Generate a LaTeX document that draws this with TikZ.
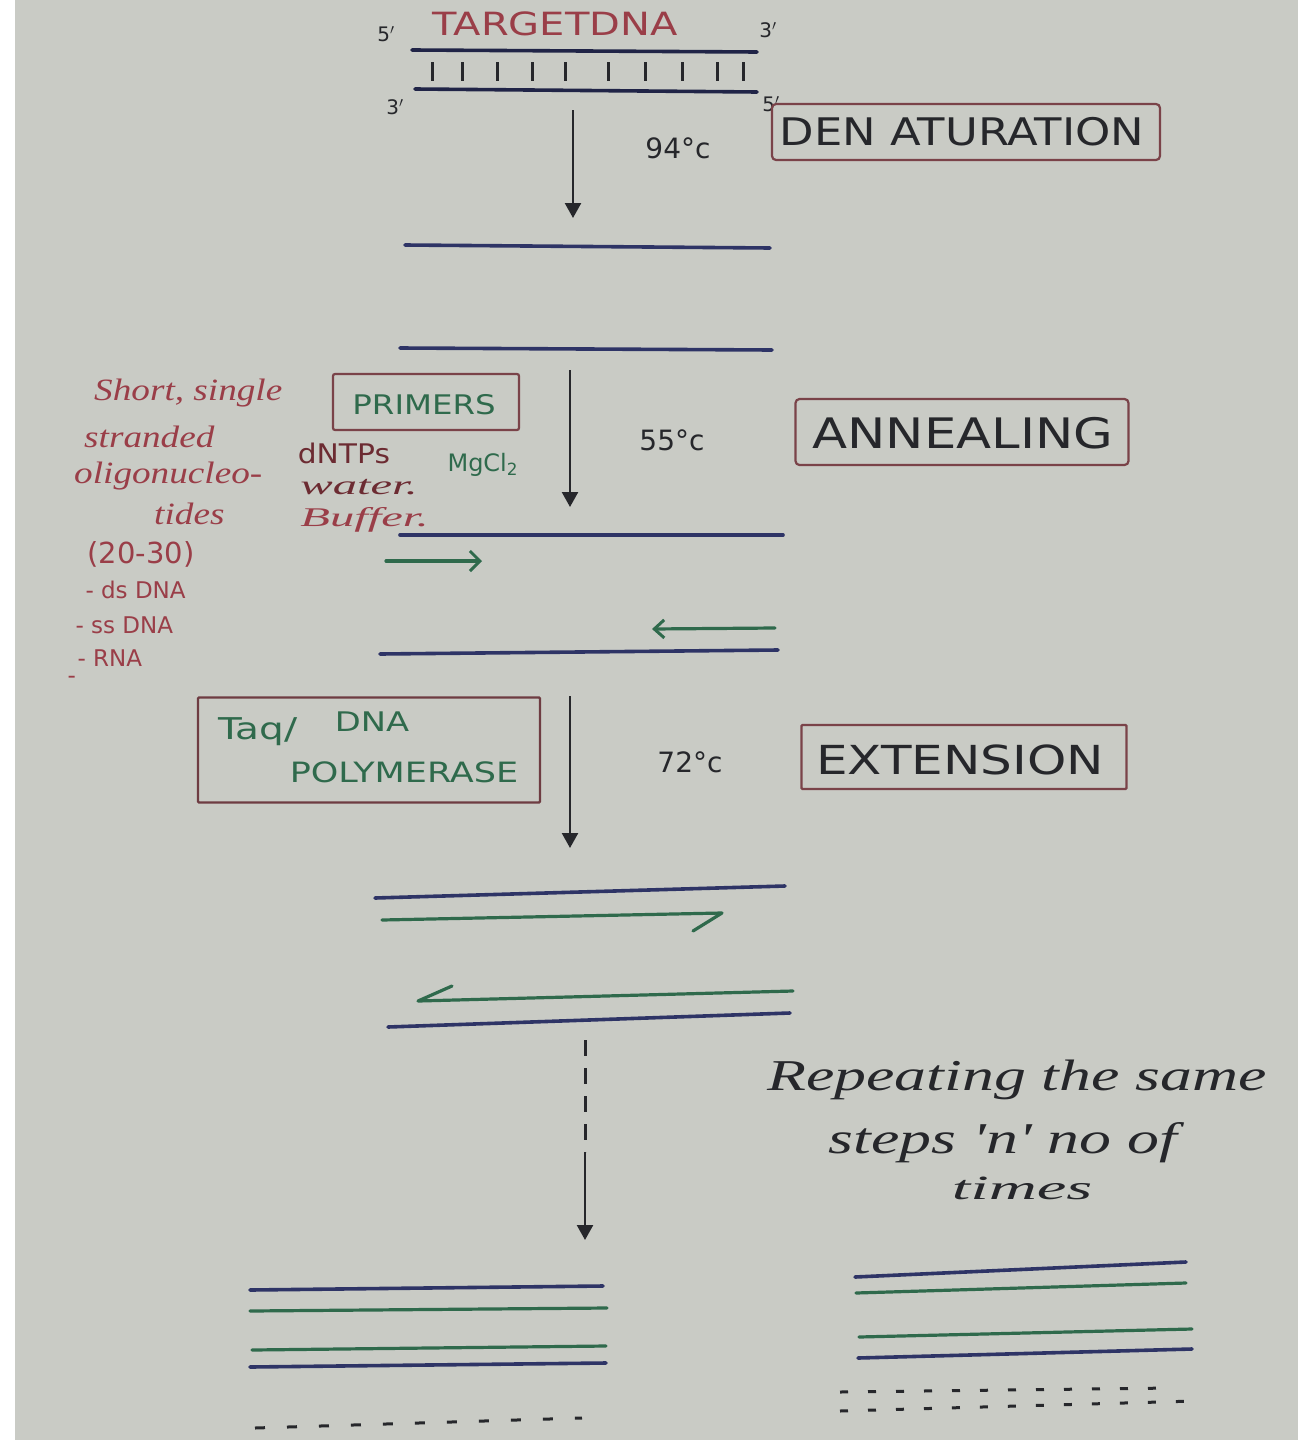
\documentclass[tikz,border=0pt]{standalone}
\usepackage{fontspec}
\setmainfont{DejaVu Sans}
\newfontfamily\cursive{Liberation Serif}
\usetikzlibrary{arrows.meta}
\definecolor{paper}{HTML}{C9CBC5}
\definecolor{navy}{HTML}{2E3466}
\definecolor{leaf}{HTML}{2F6A4C}
\definecolor{rust}{HTML}{9A3E48}
\definecolor{frame}{HTML}{7A4349}
\definecolor{ink}{HTML}{26272B}
\tikzset{
  strand/.style={navy, line width=3.6pt, line cap=round},
  primer/.style={leaf, line width=3.2pt, line cap=round, line join=round},
  flow/.style={ink, line width=2.4pt, -{Triangle[width=16pt,length=15pt]}},
  stagebox/.style={draw=frame, line width=2.2pt, rounded corners=4pt, inner sep=0pt},
  stage/.style={ink, font=\fontsize{38}{40}\selectfont},
  temp/.style={ink, font=\fontsize{28}{30}\selectfont},
  endlabel/.style={ink, font=\fontsize{20}{22}\selectfont},
  note/.style={rust, font=\cursive\itshape\fontsize{31}{33}\selectfont, anchor=west, xscale=1.2},
  tag/.style={rust, font=\fontsize{23}{25}\selectfont, anchor=west},
  reagent/.style={font=\fontsize{27}{29}\selectfont, anchor=west},
  remark/.style={ink, font=\cursive\itshape\fontsize{44}{46}\selectfont, xscale=1.45},
  pulse/.style={ink, line width=3pt, dash pattern=on 16pt off 12pt}
}
\begin{document}
\begin{tikzpicture}[x=1pt,y=-1pt]
\useasboundingbox (0,0) rectangle (1298,1440);
\fill[paper] (0,0) rectangle (1298,1440);
\fill[white] (0,0) rectangle (15,1440);

% ---------- target DNA (double strand) ----------
\node[rust, font=\fontsize{32}{34}\selectfont, xscale=1.25] (title) at (555,24) {TARGETDNA};
\node[endlabel] (p5a) at (386,34) {5$'$};
\node[endlabel] (p3a) at (768,30) {3$'$};
\node[endlabel] (p3b) at (395,107) {3$'$};
\node[endlabel] (p5b) at (771,104) {5$'$};
\coordinate (t1) at (412,50);  \coordinate (t2) at (757,52);
\coordinate (b1) at (415,89);  \coordinate (b2) at (757,92);
\draw[strand, navy!70!black] (t1) -- (t2);
\draw[strand, navy!70!black] (b1) -- (b2);
\foreach \x in {432,462,497,532,565,608,645,682,717,743}
  \draw[ink, line width=3pt] (\x,62) -- (\x,81);

% ---------- denaturation ----------
\coordinate (a1s) at (573,110); \coordinate (a1e) at (573,218);
\draw[flow] (a1s) -- (a1e);
\node[temp] (t94) at (678,148) {94°c};
\node[stagebox, minimum width=388pt, minimum height=56pt] (den) at (966,132) {};
\node[stage, xscale=1.18] (denlbl) at (962,132) {DEN ATURATION};

\coordinate (s1a) at (405,245); \coordinate (s1b) at (770,248);
\coordinate (s2a) at (400,348); \coordinate (s2b) at (772,350);
\draw[strand] (s1a) -- (s1b);
\draw[strand] (s2a) -- (s2b);

% ---------- annealing ----------
\coordinate (a2s) at (570,370); \coordinate (a2e) at (570,507);
\draw[flow] (a2s) -- (a2e);
\node[temp] (t55) at (672,440) {55°c};
\node[stagebox, minimum width=333pt, minimum height=66pt] (ann) at (962,432) {};
\node[stage, font=\fontsize{42}{44}\selectfont, xscale=1.22] (annlbl) at (963,433) {ANNEALING};

% primers and reaction mix
\node[stagebox, rounded corners=2pt, minimum width=186pt, minimum height=56pt] (prim) at (426,402) {};
\node[leaf, font=\fontsize{27}{29}\selectfont, xscale=1.2] (primlbl) at (424,405) {PRIMERS};
\node[note] (n1) at (90,393) {Short, single};
\node[note] (n2) at (80,437) {stranded};
\node[note] (n3) at (70,476) {oligonucleo-};
\node[note] (n4) at (150,514) {tides};
\node[tag, font=\fontsize{29}{31}\selectfont] (n5) at (84,554) {(20-30)};
\node[tag] (n6) at (82,590) {- ds DNA};
\node[tag] (n7) at (72,625) {- ss DNA};
\node[tag] (n8) at (74,658) {- RNA};
\node[tag] (n9) at (64,680) {-};
\node[reagent, rust!70!black, xscale=1.1] (dntp) at (294,453) {dNTPs};
\node[reagent, leaf, font=\fontsize{24}{26}\selectfont] (mg) at (444,465) {MgCl\textsubscript{2}};
\node[note, rust!70!black, font=\cursive\itshape\fontsize{27}{29}\selectfont, xscale=1.5] (water) at (294,487) {water.};
\node[note, rust, font=\cursive\itshape\fontsize{27}{29}\selectfont, xscale=1.5] (buff) at (294,520) {Buffer.};

\coordinate (s3a) at (400,535); \coordinate (s3b) at (783,535);
\coordinate (p1a) at (386,561); \coordinate (p1b) at (482,561);
\coordinate (p2a) at (775,628); \coordinate (p2b) at (652,629);
\coordinate (s4a) at (380,654); \coordinate (s4b) at (778,650);
\draw[strand] (s3a) -- (s3b);
\draw[primer, -{Straight Barb[length=10pt,width=20pt,line width=3pt]}] (p1a) -- (p1b);
\draw[primer, -{Straight Barb[length=10pt,width=18pt,line width=3pt]}] (p2a) -- (p2b);
\draw[strand] (s4a) -- (s4b);

% ---------- extension ----------
\coordinate (a3s) at (570,696); \coordinate (a3e) at (570,848);
\draw[flow] (a3s) -- (a3e);
\node[stagebox, rounded corners=1pt, draw=frame!90!black, minimum width=342pt, minimum height=105pt] (taq) at (369,750) {};
\node[leaf, font=\fontsize{30}{32}\selectfont, xscale=1.3] (taqlbl) at (258,732) {Taq/};
\node[leaf, font=\fontsize{27}{29}\selectfont, xscale=1.25] (dnalbl) at (372,722) {DNA};
\node[leaf, font=\fontsize{28}{30}\selectfont, xscale=1.25] (pollbl) at (404,772) {POLYMERASE};
\node[temp] (t72) at (690,762) {72°c};
\node[stagebox, rounded corners=1pt, minimum width=325pt, minimum height=64pt] (ext) at (964,757) {};
\node[stage, font=\fontsize{40}{42}\selectfont, xscale=1.25] (extlbl) at (960,760) {EXTENSION};

\coordinate (s5a) at (375,898);  \coordinate (s5b) at (785,886);
\coordinate (e1a) at (382,920);  \coordinate (e1b) at (722,913); \coordinate (e1h) at (693,931);
\coordinate (e2a) at (793,991);  \coordinate (e2b) at (418,1001); \coordinate (e2h) at (452,986);
\coordinate (s6a) at (388,1027); \coordinate (s6b) at (790,1013);
\draw[strand] (s5a) -- (s5b);
\draw[primer] (e1a) -- (e1b) -- (e1h);
\draw[primer] (e2a) -- (e2b) -- (e2h);
\draw[strand] (s6a) -- (s6b);

% ---------- repeated cycles ----------
\coordinate (a4s) at (585,1040); \coordinate (a4m) at (585,1152); \coordinate (a4e) at (585,1240);
\draw[pulse] (a4s) -- (a4m);
\draw[flow] (a4m) -- (a4e);
\node[remark] (r1) at (1017,1080) {Repeating the same};
\node[remark] (r2) at (1003,1143) {steps 'n' no of};
\node[remark, font=\cursive\itshape\fontsize{34}{36}\selectfont, xscale=1.35] (r3) at (1022,1188) {times};

% copies, left group
\coordinate (l1a) at (250,1290); \coordinate (l1b) at (603,1286);
\coordinate (l2a) at (250,1311); \coordinate (l2b) at (607,1308);
\coordinate (l3a) at (252,1350); \coordinate (l3b) at (606,1346);
\coordinate (l4a) at (250,1367); \coordinate (l4b) at (606,1363);
\draw[strand] (l1a) -- (l1b);
\draw[primer] (l2a) -- (l2b);
\draw[primer] (l3a) -- (l3b);
\draw[strand] (l4a) -- (l4b);
\coordinate (l5a) at (255,1428); \coordinate (l5b) at (582,1418);
\draw[ink, line width=3pt, dash pattern=on 10pt off 22pt] (l5a) -- (l5b);

% copies, right group
\coordinate (r1a) at (855,1277); \coordinate (r1b) at (1186,1262);
\coordinate (r2a) at (856,1293); \coordinate (r2b) at (1186,1283);
\coordinate (r3a) at (859,1337); \coordinate (r3b) at (1192,1329);
\coordinate (r4a) at (858,1358); \coordinate (r4b) at (1192,1349);
\draw[strand] (r1a) -- (r1b);
\draw[primer] (r2a) -- (r2b);
\draw[primer] (r3a) -- (r3b);
\draw[strand] (r4a) -- (r4b);
\coordinate (r5a) at (840,1392); \coordinate (r5b) at (1172,1388);
\coordinate (r6a) at (840,1411); \coordinate (r6b) at (1195,1401);
\draw[ink, line width=3pt, dash pattern=on 8pt off 20pt] (r5a) -- (r5b);
\draw[ink, line width=3pt, dash pattern=on 8pt off 20pt] (r6a) -- (r6b);
\end{tikzpicture}
\end{document}
